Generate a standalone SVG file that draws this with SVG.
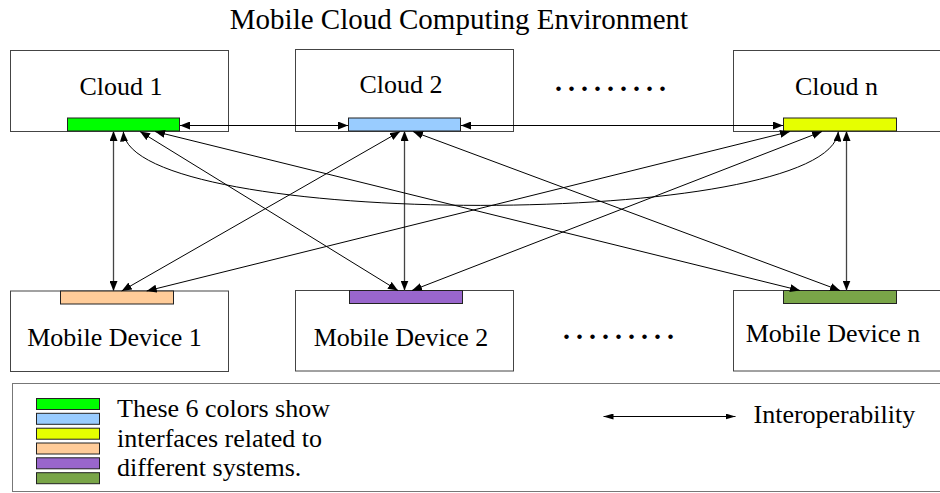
<svg xmlns="http://www.w3.org/2000/svg" width="940" height="493" viewBox="0 0 940 493" font-family="'Liberation Serif', 'Times New Roman', serif">
<defs>
<style>
text{font-family:'Liberation Serif','Times New Roman',serif;fill:#000}
.box{fill:#fff;stroke:#444;stroke-width:1}
.bar{stroke:#222;stroke-width:1}
.lbl{font-size:26px;text-anchor:middle}
.dots{font-size:28px;font-weight:bold;letter-spacing:6px}
.c{fill:none;stroke:#000;stroke-width:1;marker-start:url(#ah);marker-end:url(#ah)}
.v{stroke:#444;stroke-width:1.3}
</style>
<marker id="ah" viewBox="0 0 10 8" refX="10" refY="4" markerWidth="10" markerHeight="8" markerUnits="userSpaceOnUse" orient="auto-start-reverse">
<path d="M0,0 L10,4 L0,8 z" fill="#000"/>
</marker>
<marker id="ahs" viewBox="0 0 10 6" refX="10" refY="3" markerWidth="10" markerHeight="6" markerUnits="userSpaceOnUse" orient="auto-start-reverse">
<path d="M0,0 L10,3 L0,6 z" fill="#000"/>
</marker>
</defs>
<rect width="940" height="493" fill="#fff"/>
<text x="459" y="29" font-family="Liberation Serif, serif" style="font-size:29px" text-anchor="middle">Mobile Cloud Computing Environment</text>

<g id="cloud1">
<rect class="box" x="10.5" y="50.5" width="218" height="81"/>
<text class="lbl" x="121" y="95" font-family="Liberation Serif, serif">Cloud 1</text>
<rect class="bar" x="67.5" y="118" width="112" height="13" fill="#00ff00"/>
</g>
<g id="cloud2">
<rect class="box" x="295.5" y="49.5" width="218" height="82"/>
<text class="lbl" x="401" y="93" font-family="Liberation Serif, serif">Cloud 2</text>
<rect class="bar" x="348.5" y="118" width="112" height="13" fill="#99ccff"/>
</g>
<g id="cloudn">
<rect class="box" x="733.5" y="50.5" width="220" height="81"/>
<text class="lbl" x="836.5" y="95" font-family="Liberation Serif, serif">Cloud n</text>
<rect class="bar" x="783.5" y="118" width="113" height="13" fill="#e6ff00"/>
</g>
<g id="dots-top"><text class="dots" x="555" y="91" font-family="Liberation Serif, serif">.........</text></g>

<g id="md1">
<rect class="box" x="10.5" y="291" width="218" height="80.5"/>
<rect class="bar" x="60.5" y="291" width="113" height="13" fill="#ffcc99"/>
<text class="lbl" x="114.5" y="346" font-family="Liberation Serif, serif">Mobile Device 1</text>
</g>
<g id="md2">
<rect class="box" x="295.5" y="290.5" width="218" height="80.5"/>
<rect class="bar" x="349.5" y="290.5" width="113" height="13" fill="#9966cc"/>
<text class="lbl" x="401" y="346" font-family="Liberation Serif, serif">Mobile Device 2</text>
</g>
<g id="mdn">
<rect class="box" x="733.5" y="290.5" width="220" height="80.5"/>
<rect class="bar" x="783.5" y="290.5" width="113" height="13" fill="#79a548"/>
<text class="lbl" x="833" y="342" font-family="Liberation Serif, serif">Mobile Device n</text>
</g>
<g id="dots-bottom"><text class="dots" x="563" y="339" font-family="Liberation Serif, serif">.........</text></g>

<g id="connectors">
<path class="c" d="M180,125.5 H348"/>
<path class="c" d="M461,125.5 H783"/>
<path class="c v" d="M113.5,131 V291"/>
<path class="c v" d="M404.5,131 V290.5"/>
<path class="c v" d="M846.5,131 V290.5"/>
<path class="c" d="M140,131.5 L398,290.5"/>
<path class="c" d="M155,131.5 L800,290.5"/>
<path class="c" d="M400,131.5 L121.7,291"/>
<path class="c" d="M413,131.5 L840,290.5"/>
<path class="c" d="M790,131.5 L146.7,291"/>
<path class="c" d="M822,131.5 L412,290.5"/>
<path class="c" d="M123.3,131.5 C130,230 830,230 838.3,131.5"/>
</g>

<g id="legend">
<rect x="12.5" y="383.5" width="940" height="108" fill="none" stroke="#777" stroke-width="1"/>
<rect class="bar" x="36.5" y="398.5" width="63" height="11" fill="#00ff00"/>
<rect class="bar" x="36.5" y="413.3" width="63" height="11" fill="#99ccff"/>
<rect class="bar" x="36.5" y="428.2" width="63" height="11" fill="#e6ff00"/>
<rect class="bar" x="36.5" y="443" width="63" height="11" fill="#ffcc99"/>
<rect class="bar" x="36.5" y="457.8" width="63" height="11" fill="#9966cc"/>
<rect class="bar" x="36.5" y="472.7" width="63" height="11" fill="#79a548"/>
<text x="117" y="417" font-family="Liberation Serif, serif" style="font-size:26px">These 6 colors show</text>
<text x="117" y="446.5" font-family="Liberation Serif, serif" style="font-size:26px">interfaces related to</text>
<text x="117" y="476" font-family="Liberation Serif, serif" style="font-size:26px">different systems.</text>
<path d="M603.5,416.5 H735.5" stroke="#000" stroke-width="1" marker-start="url(#ahs)" marker-end="url(#ahs)"/>
<text x="753.5" y="423" font-family="Liberation Serif, serif" style="font-size:26px">Interoperability</text>
</g>
</svg>
